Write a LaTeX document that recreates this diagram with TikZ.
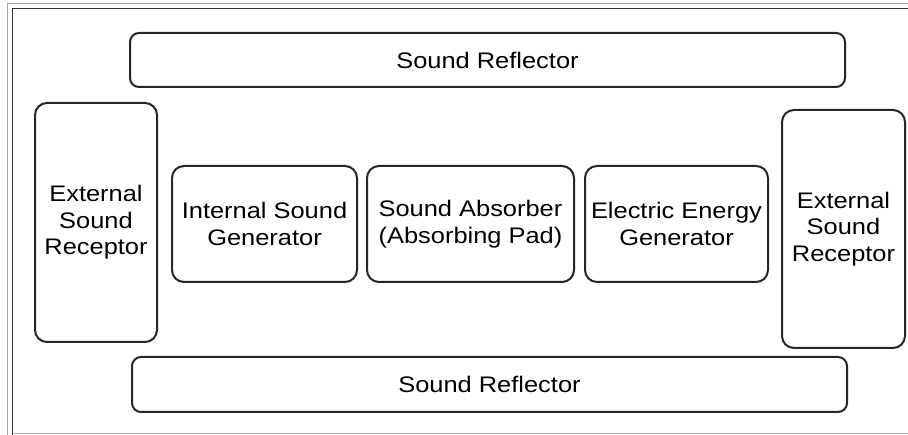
\documentclass[tikz,border=0pt]{standalone}
\usepackage{fontspec}
\setmainfont{Liberation Sans}[FakeStretch=1.13]
\begin{document}
\begin{tikzpicture}[x=1pt,y=-1pt,
  box/.style={draw=black!85, line width=2pt, rounded corners=12pt, align=center, inner sep=0pt,
    font=\fontsize{22.5}{26.5}\selectfont},
  refl/.style={box, rounded corners=9pt}]
\useasboundingbox (0,0) rectangle (908,435);
\fill[white] (0,0) rectangle (908,435);
% frame
\draw[black!35, line width=0.8pt] (7.5,435) -- (7.5,3) -- (908,3);
\draw[black!80, line width=1.8pt] (12.5,435) -- (12.5,8.5) -- (908,8.5);
\draw[black!30, line width=0.8pt] (12.5,433) -- (908,433);
% boxes
\node[refl, minimum width=715pt, minimum height=54pt] (topref) at (487.5,60) {Sound Reflector};
\node[refl, minimum width=715pt, minimum height=55pt] (botref) at (489.5,384.5) {Sound Reflector};
\node[box, minimum width=122pt, minimum height=239pt] (leftrec) at (96,222.5) {External\\Sound\\Receptor};
\node[box, minimum width=123pt, minimum height=238pt] (rightrec) at (843.5,229) {External\\Sound\\Receptor};
\node[box, minimum width=185pt, minimum height=116pt] (isg) at (264.5,224) {Internal Sound\\Generator};
\node[box, minimum width=207pt, minimum height=116pt] (absorb) at (470.5,224) {Sound Absorber\\(Absorbing Pad)};
\node[box, minimum width=183pt, minimum height=116pt] (eeg) at (676.5,224) {Electric Energy\\Generator};
\end{tikzpicture}
\end{document}
